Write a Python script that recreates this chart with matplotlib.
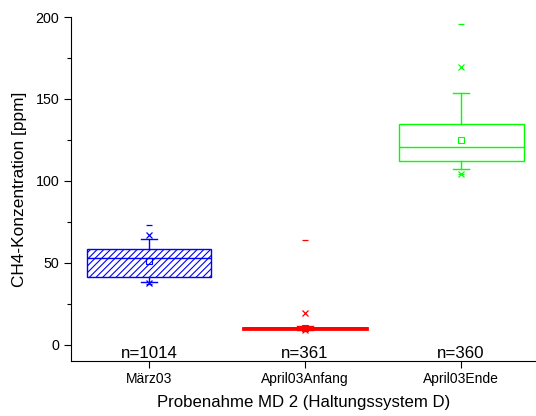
import matplotlib
matplotlib.use("Agg")
import matplotlib.pyplot as plt
from matplotlib.ticker import MultipleLocator

plt.rcParams['font.family'] = ['Liberation Sans', 'DejaVu Sans']
plt.rcParams['hatch.linewidth'] = 0.8

categories = ["März03", "April03Anfang", "April03Ende"]
n_labels = ["n=1014", "n=361", "n=360"]
colors = ["#0000FF", "#FF0000", "#00FF00"]
q1 = [41.5, 9.6, 112.4]
median = [52.8, 10.0, 120.9]
q3 = [58.3, 10.5, 134.6]
whislo = [38.4, 9.2, 107.5]
whishi = [64.4, 11.2, 153.5]
mean = [50.8, 10.0, 125.0]
p1 = [37.6, 8.8, 104.5]
p99 = [67.0, 19.5, 169.5]
vmin = [37.3, 8.6, 104.0]
vmax = [73.0, 64.0, 195.5]
hatches = ["/////", "", ""]

fig = plt.figure(figsize=(5.36, 4.16), dpi=100)
ax = fig.add_axes([0.1325, 0.132, 0.8675, 0.827])

positions = [1, 2, 3]
for i, pos in enumerate(positions):
    stats = [dict(med=median[i], q1=q1[i], q3=q3[i], whislo=whislo[i],
                  whishi=whishi[i], fliers=[], label=categories[i])]
    c = colors[i]
    lw = 1.0 if i != 1 else 2.0
    ax.bxp(stats, positions=[pos], widths=0.8, patch_artist=True,
           showfliers=False, manage_ticks=False,
           boxprops=dict(facecolor='white', edgecolor=c, linewidth=lw, hatch=hatches[i]),
           medianprops=dict(color=c, linewidth=lw),
           whiskerprops=dict(color=c, linewidth=1.0),
           capprops=dict(color=c, linewidth=1.0),
           capwidths=0.1)
    ax.plot([pos], [mean[i]], marker='s', ms=4, mfc='none', mec=c, mew=0.8, ls='none')
    ax.plot([pos, pos], [p1[i], p99[i]], marker='x', ms=4, color=c, mew=0.9, ls='none')
    ax.plot([pos, pos], [vmin[i], vmax[i]], marker='_', ms=5, color=c, mew=0.9, ls='none')
    ax.text(pos, -8.2, n_labels[i], ha='center', va='baseline', fontsize=12.2)

ax.set_xlim(0.5, 3.48)
ax.set_ylim(-10, 200)
ax.set_xticks(positions)
ax.set_xticklabels(categories, fontsize=10)
ax.yaxis.set_major_locator(MultipleLocator(50))
ax.yaxis.set_minor_locator(MultipleLocator(25))
ax.tick_params(axis='y', labelsize=10.3, direction='out', length=5, width=0.8)
ax.tick_params(axis='y', which='minor', length=3, width=0.8)
ax.tick_params(axis='x', direction='out', length=5, width=0.8, pad=3)
ax.spines['top'].set_visible(False)
ax.spines['right'].set_visible(False)
ax.set_ylabel("CH4-Konzentration [ppm]", fontsize=12.4, labelpad=6)
ax.set_xlabel("Probenahme MD 2 (Haltungssystem D)", fontsize=12.1, labelpad=6)

fig.savefig("out.png", dpi=100)
